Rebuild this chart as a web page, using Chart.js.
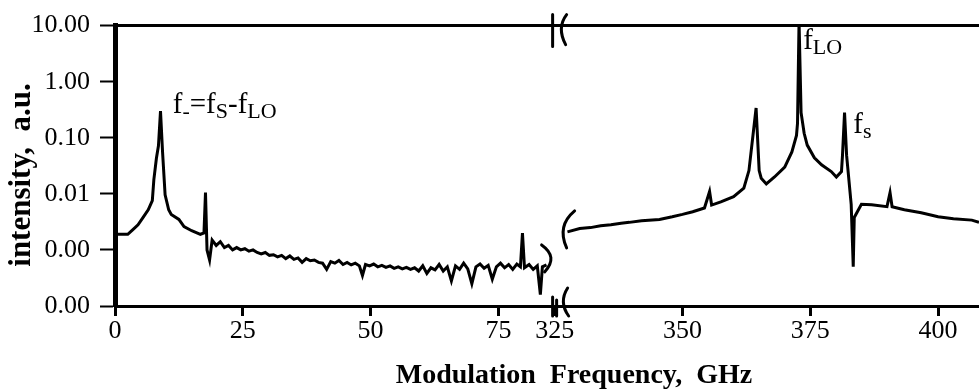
<!DOCTYPE html>
<html>
<head>
<meta charset="utf-8">
<script src="https://cdn.jsdelivr.net/npm/chart.js@4/dist/chart.umd.min.js"></script>
<style>
  html, body { margin: 0; padding: 0; background: #fff; }
  canvas { display: block; }
</style>
</head>
<body>
<canvas id="spectrum" width="979" height="392"></canvas>
<script>
// low-frequency part (GHz, a.u.)
const leftFreq = [
  0, 0.3, 2.5, 3.5, 4.5, 5.5, 6.5, 7.3, 7.6, 8.1, 8.5, 8.9, 9.3, 9.8, 10.5, 11.0,
  12.5, 13.5, 15.0, 16.7, 17.4, 17.7, 18.0, 18.5, 19.0,
  19.8, 20.6, 21.4, 22.2, 23.0, 23.8, 24.6, 25.4, 26.2, 27.0, 27.8, 28.6, 29.4, 30.2,
  31.0, 31.8, 32.6, 33.4, 34.2, 35.0, 35.8, 36.6, 37.4, 38.2, 39.0, 39.8, 40.6, 41.4,
  42.2, 43.0, 43.8, 44.6, 45.4, 46.2, 47.0, 47.8, 48.4, 49.0, 49.8, 50.6, 51.4, 52.2,
  53.0, 53.8, 54.6, 55.4, 56.2, 57.0, 57.8, 58.6, 59.4, 60.2, 61.0, 61.8, 62.6, 63.4,
  64.2, 65.0, 65.8, 66.6, 67.4, 68.2, 69.0, 69.8, 70.6, 71.4, 72.2, 73.0, 73.8, 74.6,
  75.4, 76.2, 77.0, 77.8, 78.6, 79.3, 79.7, 80.1, 81.0, 81.8, 82.6, 83.2, 83.6, 84.4
];
const leftIntensity = [
  12, 0.0019, 0.0019, 0.0023, 0.0028, 0.0038, 0.0052, 0.0076, 0.018, 0.043, 0.072, 0.30, 0.056, 0.0096, 0.0052, 0.0043,
  0.0035, 0.0026, 0.0022, 0.0019, 0.0020, 0.0105, 0.0010, 0.00066, 0.0015,
  0.0012, 0.0014, 0.0011, 0.0012, 0.0010, 0.0011, 0.0010, 0.00105, 0.00095, 0.0010, 0.0009, 0.00085, 0.0009, 0.0008,
  0.00082, 0.00075, 0.0008, 0.0007, 0.00078, 0.00068, 0.00072, 0.0006, 0.0007, 0.00064, 0.00066, 0.0006, 0.00058, 0.00045,
  0.00062, 0.00058, 0.00065, 0.00055, 0.0006, 0.00054, 0.00058, 0.00052, 0.00035, 0.00055, 0.00052, 0.00056, 0.0005, 0.00053,
  0.00049, 0.00052, 0.00047, 0.0005, 0.00046, 0.00049, 0.00045, 0.00048, 0.00042, 0.00052, 0.00038, 0.00048, 0.00044, 0.00055,
  0.00042, 0.0005, 0.00028, 0.00052, 0.00045, 0.00058, 0.00046, 0.00025, 0.0005, 0.00056, 0.00047, 0.00053, 0.0003, 0.0005,
  0.00058, 0.00048, 0.00055, 0.00045, 0.00056, 0.0005, 0.0020, 0.00048, 0.00055, 0.00045, 0.00052, 0.00016, 0.0005, 0.00054
];

// high-frequency part around f_LO and f_s
const rightFreq = [
  327.5, 329.9, 332.0, 334.0, 336.0, 338.0, 339.6, 342.0, 345.5, 348.0, 350.0, 352.0, 354.3, 355.3, 355.7,
  357.5, 360.0, 362.0, 363.0, 364.4, 365.0, 365.4, 366.4, 368.0, 370.0, 371.4, 372.3, 372.5, 372.8, 373.2,
  373.8, 374.4, 375.8, 377.2, 379.1, 380.1, 381.1, 381.3, 381.7, 382.1, 383.0, 383.4, 383.6, 385.0, 387.0,
  390.0, 390.6, 391.0, 393.4, 396.7, 400.0, 403.0, 406.6, 408.0
];
const rightIntensity = [
  0.0021, 0.0024, 0.0025, 0.0027, 0.0028, 0.0030, 0.0031, 0.0033, 0.0035, 0.0039, 0.0043, 0.0048, 0.0056, 0.011, 0.0063,
  0.0072, 0.0089, 0.0126, 0.026, 0.34, 0.026, 0.019, 0.015, 0.020, 0.030, 0.056, 0.11, 0.18, 12, 0.28,
  0.12, 0.074, 0.044, 0.033, 0.025, 0.020, 0.025, 0.049, 0.28, 0.049, 0.0065, 0.0005, 0.0038, 0.0065, 0.0064,
  0.0059, 0.0105, 0.0059, 0.0052, 0.0046, 0.0039, 0.0036, 0.0034, 0.0031
];

const xTickFreqs = [0, 25, 50, 75, 325, 350, 375, 400];
const xTickLabels = ['0', '25', '50', '75', '325', '350', '375', '400'];
const yTickValues = [0.0001, 0.001, 0.01, 0.1, 1, 10];

// broken axis: 325 GHz sits right after 86 GHz
const breakAt = 85.6;
const gapStart = 325, gapOffset = 86;
const toAxis = f => (f >= gapStart ? f - gapStart + gapOffset : f);
const xMax = toAxis(408);

const serif = '"Liberation Serif", "Times New Roman", serif';

function richText(ctx, x, y, parts) {
  parts.forEach(([txt, sub]) => {
    ctx.font = (sub ? '22px ' : '29px ') + serif;
    ctx.fillText(txt, x, sub ? y + 5 : y);
    x += ctx.measureText(txt).width;
  });
}

const decorations = {
  id: 'decorations',
  afterDraw(chart) {
    const { ctx, chartArea, scales: { x, y } } = chart;
    const bx = x.getPixelForValue(breakAt);
    ctx.save();
    ctx.strokeStyle = '#000';
    ctx.fillStyle = '#000';
    ctx.lineWidth = 3;
    ctx.lineCap = 'round';

    // axis break marks
    const top = chartArea.top, bottom = chartArea.bottom;
    ctx.beginPath();
    ctx.moveTo(bx, top - 11); ctx.lineTo(bx, top + 21);
    ctx.moveTo(bx + 14, top - 11);
    ctx.quadraticCurveTo(bx + 4, top + 2, bx + 13, top + 19);
    ctx.moveTo(bx, bottom - 9); ctx.lineTo(bx, bottom + 10);
    ctx.moveTo(bx + 4, bottom - 6); ctx.lineTo(bx + 4, bottom + 10);
    ctx.moveTo(bx + 15, bottom - 18);
    ctx.quadraticCurveTo(bx + 6, bottom - 4, bx + 16, bottom + 10);
    ctx.stroke();

    // curve break marks
    const yl = y.getPixelForValue(leftIntensity[leftIntensity.length - 1]);
    const yr = y.getPixelForValue(rightIntensity[0]);
    ctx.beginPath();
    ctx.moveTo(bx - 11, yl - 20);
    ctx.quadraticCurveTo(bx + 6, yl - 8, bx - 8, yl + 7);
    ctx.moveTo(bx + 22, yr - 21);
    ctx.quadraticCurveTo(bx + 4, yr - 6, bx + 14, yr + 16);
    ctx.stroke();

    // peak labels
    ctx.textAlign = 'left';
    ctx.textBaseline = 'alphabetic';
    richText(ctx, x.getPixelForValue(11.3), y.getPixelForValue(0.28),
      [['f'], ['-', true], ['=f'], ['S', true], ['-f'], ['LO', true]]);
    richText(ctx, x.getPixelForValue(toAxis(373.6)), y.getPixelForValue(3.9),
      [['f'], ['LO', true]]);
    richText(ctx, x.getPixelForValue(toAxis(383.4)), y.getPixelForValue(0.12),
      [['f'], ['s', true]]);

    // axis titles
    ctx.textAlign = 'center';
    ctx.font = 'bold 28px ' + serif;
    ctx.fillText('Modulation  Frequency,  GHz', 574, 383);
    ctx.font = 'bold 31px ' + serif;
    ctx.translate(30, 175);
    ctx.rotate(-Math.PI / 2);
    ctx.fillText('intensity,  a.u.', 0, 0);
    ctx.restore();
  }
};

const lineStyle = {
  borderColor: '#000',
  borderWidth: 3,
  pointRadius: 0,
  tension: 0,
  fill: false
};

new Chart(document.getElementById('spectrum').getContext('2d'), {
  type: 'line',
  data: {
    datasets: [
      { ...lineStyle, label: 'low', data: leftFreq.map((f, i) => ({ x: toAxis(f), y: leftIntensity[i] })) },
      { ...lineStyle, label: 'high', data: rightFreq.map((f, i) => ({ x: toAxis(f), y: rightIntensity[i] })) }
    ]
  },
  options: {
    responsive: false,
    animation: false,
    devicePixelRatio: 1,
    layout: { padding: 0 },
    plugins: { legend: { display: false }, tooltip: { enabled: false } },
    scales: {
      x: {
        type: 'linear',
        position: 'bottom',
        min: 0,
        max: xMax,
        afterFit: s => { s.height = 86; },
        afterBuildTicks: s => { s.ticks = xTickFreqs.map(f => ({ value: toAxis(f) })); },
        ticks: {
          callback: (v, i) => xTickLabels[i],
          autoSkip: false,
          maxRotation: 0,
          padding: 0,
          color: '#000',
          font: { family: serif, size: 26 }
        },
        grid: { drawOnChartArea: false, tickLength: 10, tickWidth: 3, tickColor: '#000' },
        border: { display: true, width: 3, color: '#000' }
      },
      xTop: {
        type: 'linear',
        position: 'top',
        min: 0,
        max: xMax,
        afterFit: s => { s.height = 22; },
        ticks: { display: false },
        grid: { display: false, drawTicks: false },
        border: { display: true, width: 3, color: '#000' }
      },
      y: {
        type: 'logarithmic',
        position: 'left',
        min: 0.0001,
        max: 10,
        afterFit: s => { s.width = 115; },
        afterBuildTicks: s => { s.ticks = yTickValues.map(v => ({ value: v })); },
        ticks: {
          callback: v => Number(v).toFixed(2),
          autoSkip: false,
          padding: 10,
          color: '#000',
          font: { family: serif, size: 26 }
        },
        grid: { drawOnChartArea: false, tickLength: 15, tickWidth: 2, tickColor: '#000' },
        border: { display: true, width: 5, color: '#000' }
      }
    }
  },
  plugins: [decorations]
});
</script>
</body>
</html>
